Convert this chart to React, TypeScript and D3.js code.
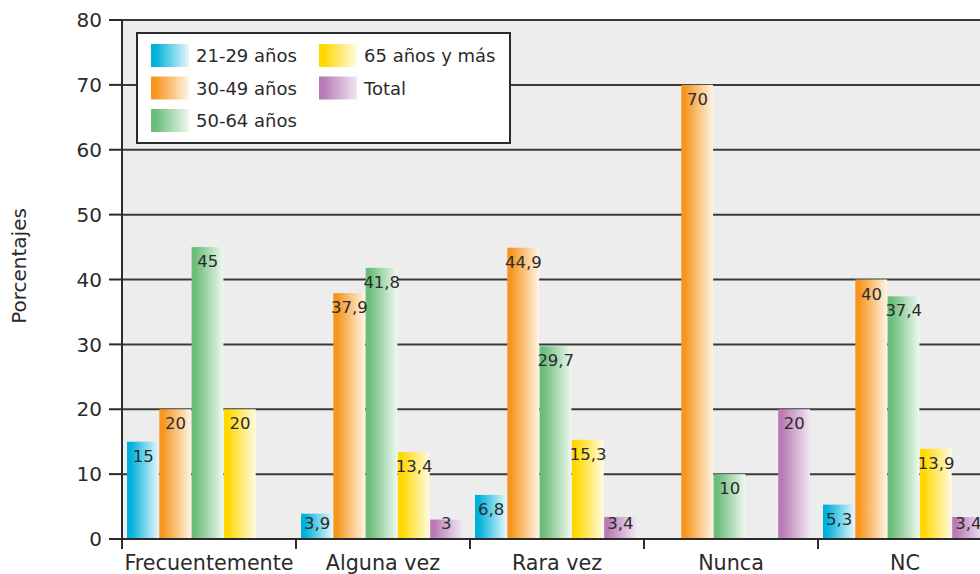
import React from "react";
import * as d3 from "d3";

const categories = ["Frecuentemente", "Alguna vez", "Rara vez", "Nunca", "NC"];
const seriesNames = ["21-29 años", "30-49 años", "50-64 años", "65 años y más", "Total"];
const s2129: (number | null)[] = [15, 3.9, 6.8, null, 5.3];
const s3049: (number | null)[] = [20, 37.9, 44.9, 70, 40];
const s5064: (number | null)[] = [45, 41.8, 29.7, 10, 37.4];
const s65: (number | null)[] = [20, 13.4, 15.3, null, 13.9];
const sTotal: (number | null)[] = [null, 3, 3.4, 20, 3.4];
const seriesValues = [s2129, s3049, s5064, s65, sTotal];
const yTicks = [0, 10, 20, 30, 40, 50, 60, 70, 80];

const colors = [
  ["#00b2da", "#e6f6fb"],
  ["#f7961f", "#fff4e4"],
  ["#6bbd79", "#eef8ef"],
  ["#ffd800", "#fffbe2"],
  ["#b97bb5", "#f1e6f1"],
];

const FONT = "'DejaVu Sans', sans-serif";
const TEXT = "#2b2b2b";

export default function App() {
  const W = 980, H = 574;
  const left = 122, top = 20, bottom = 539;
  const bandW = 174;
  const x = d3.scaleBand<string>().domain(categories).range([left, left + bandW * categories.length]).padding(0);
  const xi = d3.scaleBand<string>().domain(seriesNames).range([5, 166.5]).padding(0);
  const y = d3.scaleLinear().domain([0, 80]).range([bottom, top]);
  const fmt = (v: number) => String(v).replace(".", ",");

  return (
    <svg width={W} height={H} style={{ position: "absolute", left: 0, top: 0, background: "#fff" }} fontFamily={FONT}>
      <defs>
        {colors.map((c, i) => (
          <linearGradient key={i} id={`g${i}`} x1="0" x2="1" y1="0" y2="0">
            <stop offset="0" stopColor={c[0]} />
            <stop offset="0.12" stopColor={c[0]} />
            <stop offset="1" stopColor={c[1]} />
          </linearGradient>
        ))}
      </defs>
      <rect x={left} y={top} width={W - left} height={bottom - top} fill="#ededed" />
      {yTicks.filter((t) => t > 0).map((t) => (
        <line key={t} x1={left} x2={W} y1={y(t)} y2={y(t)} stroke="#3a3a3a" strokeWidth={2} />
      ))}
      {categories.map((c, ci) =>
        seriesValues.map((vals, si) => {
          const v = vals[ci];
          if (v == null) return null;
          const bx = (x(c) as number) + (xi(seriesNames[si]) as number);
          const bw = xi.bandwidth();
          return (
            <rect key={`${ci}-${si}`} x={bx} y={y(v)} width={bw - 0.5} height={bottom - y(v)} fill={`url(#g${si})`} />
          );
        })
      )}
      {categories.map((c, ci) =>
        seriesValues.map((vals, si) => {
          const v = vals[ci];
          if (v == null) return null;
          const bx = (x(c) as number) + (xi(seriesNames[si]) as number);
          const bw = xi.bandwidth();
          const by = Math.min(y(v) + 20, 529);
          return (
            <text key={`t${ci}-${si}`} x={bx + bw / 2} y={by} textAnchor="middle" fontSize={16.5} fill={TEXT}>
              {fmt(v)}
            </text>
          );
        })
      )}
      <line x1={left} x2={W} y1={bottom} y2={bottom} stroke="#2b2b2b" strokeWidth={2} />
      <line x1={left} x2={left} y1={top} y2={bottom + 10} stroke="#2b2b2b" strokeWidth={2} />
      {categories.map((c) => (
        <line key={c} x1={x(c) as number} x2={x(c) as number} y1={bottom} y2={bottom + 10} stroke="#2b2b2b" strokeWidth={2} />
      ))}
      {yTicks.map((t) => (
        <g key={t}>
          <line x1={left - 13} x2={left} y1={y(t)} y2={y(t)} stroke="#2b2b2b" strokeWidth={2} />
          <text x={102} y={y(t)} dy="0.36em" textAnchor="end" fontSize={20} fill={TEXT}>
            {t}
          </text>
        </g>
      ))}
      {categories.map((c) => (
        <text key={c} x={(x(c) as number) + bandW / 2} y={570} textAnchor="middle" fontSize={20.7} fill={TEXT}>
          {c}
        </text>
      ))}
      <text transform={`translate(26,266) rotate(-90)`} textAnchor="middle" fontSize={20} fill={TEXT}>
        Porcentajes
      </text>
      <rect x={137} y={33} width={373} height={110} fill="#fff" stroke="#2b2b2b" strokeWidth={2} />
      {seriesNames.map((n, i) => {
        const col = i < 3 ? 0 : 1;
        const row = i < 3 ? i : i - 3;
        const sx = col === 0 ? 151 : 319;
        const sy = 44 + row * 32.5;
        return (
          <g key={n}>
            <rect x={sx} y={sy} width={38} height={23} fill={`url(#g${i})`} />
            <text x={sx + 45} y={sy + 18} fontSize={18} fill={TEXT}>
              {n}
            </text>
          </g>
        );
      })}
    </svg>
  );
}
